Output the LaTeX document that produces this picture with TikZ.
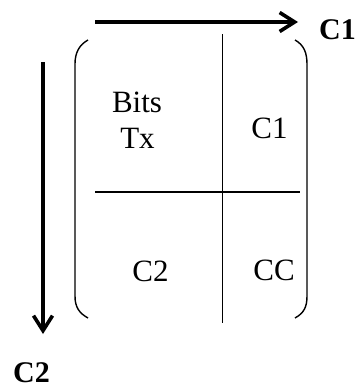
\documentclass[tikz,border=0pt]{standalone}
\usepackage{fontspec}
\setmainfont{Liberation Serif}
\usetikzlibrary{arrows.meta}
\begin{document}
\begin{tikzpicture}[x=1pt,y=-1pt,
  cell/.style={anchor=base,inner sep=0pt,font=\fontsize{31}{36}\selectfont},
  axislabel/.style={anchor=base,inner sep=0pt,font=\fontsize{30}{36}\selectfont\bfseries},
  axisarrow/.style={line width=3.6pt,-{Straight Barb[length=15pt,width=19pt,line width=3.6pt]}},
  bracket/.style={line width=1.4pt},
  divider/.style={line width=1.3pt}]
\useasboundingbox (0,0) rectangle (359,388);
% axis arrows
\coordinate (hs) at (95,22);
\coordinate (he) at (298,22);
\coordinate (vs) at (43,62);
\coordinate (ve) at (43,334);
\draw[axisarrow] (hs) -- (he);
\draw[axisarrow] (vs) -- (ve);
\node[axislabel] (c1lab) at (337.5,39) {C1};
\node[axislabel] (c2lab) at (31.5,382) {C2};
% brackets
\draw[bracket] (88,40) .. controls (79,45) and (75,53) .. (75,64) -- (75,296) .. controls (75,307) and (79,313) .. (88,318);
\draw[bracket] (295,40) .. controls (304,45) and (307,53) .. (307,64) -- (307,296) .. controls (307,307) and (304,313) .. (295,318);
% dividers
\coordinate (vt) at (222.7,34);
\coordinate (vb) at (222.7,323);
\coordinate (hl) at (95,192);
\coordinate (hr) at (300,192);
\draw[divider] (vt) -- (vb);
\draw[divider] (hl) -- (hr);
% cell texts
\node[cell] (bits) at (137,112) {Bits};
\node[cell] (tx) at (137.5,148) {Tx};
\node[cell] (c1) at (269.5,138) {C1};
\node[cell] (c2) at (150.5,281) {C2};
\node[cell] (cc) at (274,280) {CC};
\end{tikzpicture}
\end{document}
